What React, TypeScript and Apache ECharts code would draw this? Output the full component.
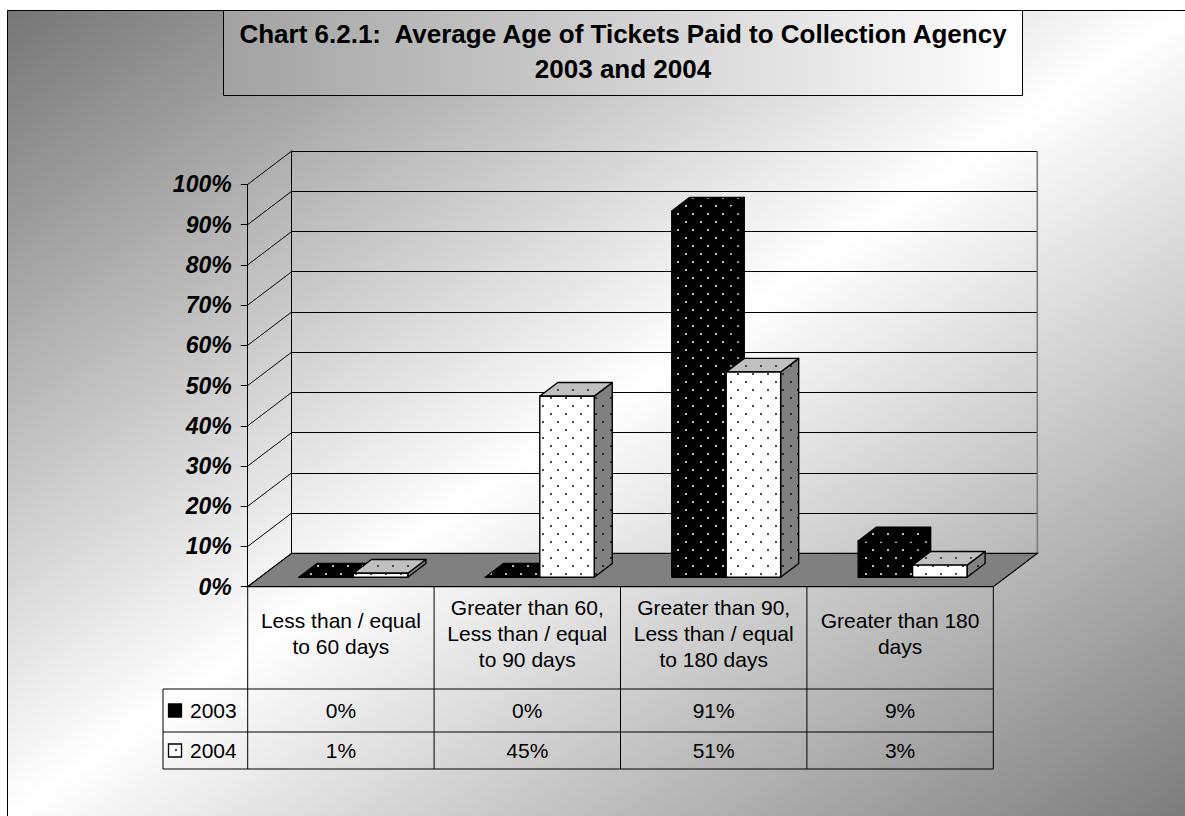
import { useEffect, useRef } from 'react';
import * as echarts from 'echarts';

// ---------- data ----------
const categories = [
  'Less than / equal\nto 60 days',
  'Greater than 60,\nLess than / equal\nto 90 days',
  'Greater than 90,\nLess than / equal\nto 180 days',
  'Greater than 180\ndays',
];
const years = ['2003', '2004'];
const values2003 = [0, 0, 91, 9];
const values2004 = [1, 45, 51, 3];
const yTicks = [0, 10, 20, 30, 40, 50, 60, 70, 80, 90, 100];
const titleLines = [
  'Chart 6.2.1:  Average Age of Tickets Paid to Collection Agency',
  '2003 and 2004',
];

// ---------- layout / style ----------
const FONT = "'Liberation Sans', Arial, Helvetica, sans-serif";
const W = 1178;
const H = 806;
const DX = 44; // depth of 3D box (x)
const DY = -33.4; // depth of 3D box (y)
const GRID = { left: 240.7, top: 174.4, width: 745.6, height: 402.3 };
const FRONT = 0.284; // depth fraction where bar front faces sit
const DEPTH = 0.41; // bar depth as fraction of box depth
const BAR_FRAC = 0.292; // bar width as fraction of category width
const ROWS = [679, 722, 759]; // table row lines (below header)
const TABLE_LEFT = 156;

function dotPattern(bg: string, dot: string) {
  const c = document.createElement('canvas');
  c.width = 15;
  c.height = 16;
  const g = c.getContext('2d')!;
  g.fillStyle = bg;
  g.fillRect(0, 0, 15, 16);
  g.fillStyle = dot;
  g.fillRect(3, 3, 2, 2);
  g.fillRect(10, 11, 2, 2);
  return { image: c, repeat: 'repeat', imageWidth: 15, imageHeight: 16 };
}

export default function App() {
  const ref = useRef<HTMLDivElement>(null);

  useEffect(() => {
    if (!ref.current) return;
    const chart = echarts.init(ref.current, undefined, { renderer: 'svg' });

    const pats = [
      {
        front: dotPattern('#000000', '#bdbdbd'),
        top: dotPattern('#000000', '#bdbdbd'),
        side: dotPattern('#000000', '#9a9a9a'),
      },
      {
        front: dotPattern('#ffffff', '#4a4a4a'),
        top: dotPattern('#c0c0c0', '#4a4a4a'),
        side: dotPattern('#808080', '#2a2a2a'),
      },
    ];

    const barRender = (si: number) => (params: any, api: any) => {
      const ci = api.value(0);
      const v = api.value(1);
      const base = api.coord([ci, 0]);
      const top = api.coord([ci, v]);
      const cw = api.size([1, 0])[0];
      const bw = cw * BAR_FRAC;
      const ox = DX * FRONT;
      const oy = DY * FRONT;
      const dx = DX * DEPTH;
      const dy = DY * DEPTH;
      const x0 = base[0] + ox - (si === 0 ? bw : 0);
      const x1 = x0 + bw;
      const yb = base[1] + oy;
      const yt = top[1] + oy;
      const st = { stroke: '#000', lineWidth: 1.4, lineJoin: 'round' };
      const p = pats[si];
      return {
        type: 'group',
        children: [
          {
            type: 'polygon',
            shape: { points: [[x1, yt], [x1 + dx, yt + dy], [x1 + dx, yb + dy], [x1, yb]] },
            style: { fill: p.side, ...st },
          },
          {
            type: 'polygon',
            shape: { points: [[x0, yt], [x1, yt], [x1 + dx, yt + dy], [x0 + dx, yt + dy]] },
            style: { fill: p.top, ...st },
          },
          {
            type: 'rect',
            shape: { x: x0, y: yt, width: bw, height: Math.max(0, yb - yt) },
            style: { fill: p.front, ...st },
          },
        ],
      };
    };

    const textStyle = (text: string, x: number, y: number, align = 'center') => ({
      type: 'text',
      style: {
        text,
        x,
        y,
        align,
        verticalAlign: 'middle',
        fontSize: 21,
        fontFamily: FONT,
        fill: '#000',
      },
    });

    const line = (x1: number, y1: number, x2: number, y2: number, stroke = '#000', lw = 1) => ({
      type: 'line',
      shape: { x1, y1, x2, y2 },
      style: { stroke, lineWidth: lw },
    });

    const option: any = {
      animation: false,
      backgroundColor: new echarts.graphic.LinearGradient(0, 0, 1, 1, [
        { offset: 0, color: '#767676' },
        { offset: 0.5, color: '#ffffff' },
        { offset: 1, color: '#7c7c7c' },
      ]),
      grid: [
        { left: GRID.left, top: GRID.top, width: GRID.width, height: GRID.height },
        { left: GRID.left + DX, top: GRID.top + DY, width: GRID.width, height: GRID.height },
      ],
      xAxis: [
        {
          type: 'category',
          gridIndex: 0,
          data: categories,
          axisLine: { show: false },
          axisTick: { show: false },
          splitLine: { show: false },
          axisLabel: {
            interval: 0,
            margin: 47,
            verticalAlign: 'middle',
            fontSize: 21,
            lineHeight: 26,
            fontFamily: FONT,
            color: '#000',
          },
        },
        { type: 'value', gridIndex: 1, show: false, min: 0, max: 1 },
      ],
      yAxis: [
        {
          type: 'value',
          gridIndex: 0,
          min: 0,
          max: 100,
          interval: 10,
          axisLine: { show: true, lineStyle: { color: '#000', width: 1 } },
          axisTick: { show: true, length: 7, lineStyle: { color: '#000' } },
          splitLine: { show: false },
          axisLabel: {
            formatter: '{value}%',
            fontSize: 23,
            fontWeight: 'bold',
            fontStyle: 'italic',
            fontFamily: FONT,
            color: '#000',
            margin: 16,
          },
        },
        {
          type: 'value',
          gridIndex: 1,
          min: 0,
          max: 100,
          interval: 10,
          axisLine: { show: true, lineStyle: { color: '#000', width: 1 } },
          axisTick: { show: false },
          axisLabel: { show: false },
          splitLine: { show: true, lineStyle: { color: '#000', width: 1 } },
        },
      ],
      graphic: [
        { type: 'line', shape: { x1: 0, y1: 0.5, x2: W, y2: 0.5 }, style: { stroke: '#000', lineWidth: 1 } },
        { type: 'line', shape: { x1: 0.5, y1: 0, x2: 0.5, y2: H }, style: { stroke: '#000', lineWidth: 1 } },
        {
          type: 'rect',
          shape: { x: 216.5, y: 0.5, width: 799, height: 85 },
          style: {
            fill: new echarts.graphic.LinearGradient(0, 0, 1, 0, [
              { offset: 0, color: '#a2a2a2' },
              { offset: 1, color: '#ffffff' },
            ]),
            stroke: '#000',
            lineWidth: 1,
          },
        },
        {
          type: 'text',
          x: 616,
          y: 24,
          style: {
            text: titleLines[0],
            align: 'center',
            verticalAlign: 'middle',
            fontSize: 26,
            fontWeight: 'bold',
            fontFamily: FONT,
            fill: '#000',
          },
        },
        {
          type: 'text',
          x: 616,
          y: 59,
          style: {
            text: titleLines[1],
            align: 'center',
            verticalAlign: 'middle',
            fontSize: 26,
            fontWeight: 'bold',
            fontFamily: FONT,
            fill: '#000',
          },
        },
      ],
      series: [
        // side-wall diagonals at each tick
        {
          type: 'custom',
          name: 'walls',
          xAxisIndex: 0,
          yAxisIndex: 0,
          z: 1,
          silent: true,
          data: yTicks.map((v) => [0, v]),
          encode: { x: 0, y: 1 },
          renderItem: (params: any, api: any) => {
            const cs = params.coordSys;
            const y = api.coord([0, api.value(1)])[1];
            return line(cs.x, y, cs.x + DX, y + DY);
          },
        },
        // floor + back wall right edge
        {
          type: 'custom',
          name: 'floor',
          xAxisIndex: 0,
          yAxisIndex: 0,
          z: 2,
          silent: true,
          data: [[0, 0]],
          encode: { x: 0, y: 1 },
          renderItem: (params: any, api: any) => {
            const cs = params.coordSys;
            const yb = api.coord([0, 0])[1];
            const xl = cs.x;
            const xr = cs.x + cs.width;
            return {
              type: 'group',
              children: [
                line(xr + DX, cs.y + DY, xr + DX, yb + DY, '#7a7a7a', 1.6),
                {
                  type: 'polygon',
                  shape: { points: [[xl, yb], [xr, yb], [xr + DX, yb + DY], [xl + DX, yb + DY]] },
                  style: { fill: '#808080', stroke: '#000', lineWidth: 1.2 },
                },
              ],
            };
          },
        },
        {
          type: 'custom',
          name: years[0],
          xAxisIndex: 0,
          yAxisIndex: 0,
          z: 3,
          data: values2003.map((v, i) => [i, v]),
          encode: { x: 0, y: 1 },
          renderItem: barRender(0),
        },
        {
          type: 'custom',
          name: years[1],
          xAxisIndex: 0,
          yAxisIndex: 0,
          z: 4,
          data: values2004.map((v, i) => [i, v]),
          encode: { x: 0, y: 1 },
          renderItem: barRender(1),
        },
        // data table
        {
          type: 'custom',
          name: 'table',
          xAxisIndex: 0,
          yAxisIndex: 0,
          z: 5,
          silent: true,
          data: categories.map((_, i) => [i, 0, values2003[i], values2004[i]]),
          encode: { x: 0, y: 1 },
          renderItem: (params: any, api: any) => {
            const cs = params.coordSys;
            const ci = api.value(0);
            const c = api.coord([ci, 0]);
            const yb = c[1];
            const cw = api.size([1, 0])[0];
            const r1 = (ROWS[0] + ROWS[1]) / 2;
            const r2 = (ROWS[1] + ROWS[2]) / 2;
            const children: any[] = [
              line(c[0] + cw / 2, yb, c[0] + cw / 2, ROWS[2]),
              textStyle(api.value(2) + '%', c[0], r1),
              textStyle(api.value(3) + '%', c[0], r2),
            ];
            if (ci === 0) {
              const xl = cs.x;
              const xr = cs.x + cs.width;
              children.push(line(xl, yb, xl, ROWS[2]));
              children.push(line(TABLE_LEFT, ROWS[0], TABLE_LEFT, ROWS[2]));
              ROWS.forEach((ry) => children.push(line(TABLE_LEFT, ry, xr, ry)));
              [r1, r2].forEach((ry, k) => {
                children.push({
                  type: 'rect',
                  shape: { x: 161.5, y: ry - 6.5, width: 13, height: 13 },
                  style: { fill: pats[k].front, stroke: '#000', lineWidth: 1.3 },
                });
                children.push(textStyle(years[k], 183, ry, 'left'));
              });
            }
            return { type: 'group', children };
          },
        },
      ],
    };

    chart.setOption(option);
    return () => chart.dispose();
  }, []);

  return (
    <div
      ref={ref}
      style={{ position: 'fixed', left: 7, top: 10, width: W, height: H }}
    />
  );
}
